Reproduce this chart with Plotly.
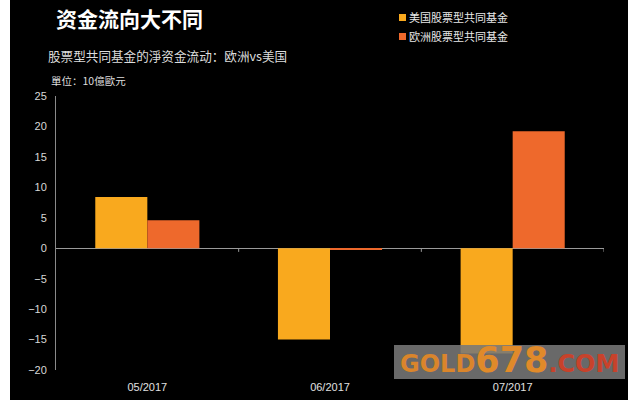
import plotly.graph_objects as go

# ---- data ----
categories = ["05/2017", "06/2017", "07/2017"]
us_values = [8.4, -15.0, -17.3]
eu_values = [4.6, -0.3, 19.2]
series_names = ["美国股票型共同基金", "欧洲股票型共同基金"]
y_ticks = [-20, -15, -10, -5, 0, 5, 10, 15, 20, 25]

title_text = "资金流向大不同"
subtitle_text = "股票型共同基金的淨资金流动：欧洲vs美国"
unit_text = "單位：10億歐元"

US_COLOR = "#F9A91E"
EU_COLOR = "#EE692C"

W, H = 640, 400
ML, MR, MT, MB = 56, 36, 96, 30
PW, PH = W - ML - MR, H - MT - MB


def px(x):
    return (x - ML) / PW


def py(y):
    return (H - MB - y) / PH


FONT = "Liberation Sans, Arial, Noto Sans CJK SC, sans-serif"
CJK = "Noto Sans CJK SC, Liberation Sans, sans-serif"

fig = go.Figure()
fig.add_trace(go.Bar(x=categories, y=us_values, name=series_names[0],
                     marker=dict(color=US_COLOR, line=dict(width=0))))
fig.add_trace(go.Bar(x=categories, y=eu_values, name=series_names[1],
                     marker=dict(color=EU_COLOR, line=dict(width=0))))

shapes = []
# black canvas with white border strips
shapes.append(dict(type="rect", xref="paper", yref="paper",
                   x0=px(10), x1=px(628), y0=py(400), y1=py(0),
                   fillcolor="black", line=dict(width=0), layer="below"))
# category boundary ticks on zero line
for b in [0.5, 1.5, 2.5]:
    shapes.append(dict(type="line", xref="x", yref="y", x0=b, x1=b, y0=0, y1=-0.6,
                       line=dict(color="#999999", width=1)))
# legend squares
shapes.append(dict(type="rect", xref="paper", yref="paper",
                   x0=px(399), x1=px(406), y0=py(21), y1=py(14),
                   fillcolor=US_COLOR, line=dict(width=0)))
shapes.append(dict(type="rect", xref="paper", yref="paper",
                   x0=px(399), x1=px(406), y0=py(40), y1=py(33),
                   fillcolor=EU_COLOR, line=dict(width=0)))
# watermark box
shapes.append(dict(type="rect", xref="paper", yref="paper",
                   x0=px(394), x1=px(625), y0=py(379), y1=py(345),
                   fillcolor="rgba(120,120,120,0.88)", line=dict(width=0)))

annotations = [
    dict(text=title_text, xref="paper", yref="paper", x=px(54), y=py(18),
         xanchor="left", yanchor="middle", showarrow=False,
         font=dict(family=CJK, size=21, color="white", weight="bold")),
    dict(text=subtitle_text, xref="paper", yref="paper", x=px(46), y=py(55),
         xanchor="left", yanchor="middle", showarrow=False,
         font=dict(family=CJK, size=12.6, color="#dddddd")),
    dict(text=unit_text, xref="paper", yref="paper", x=px(49), y=py(80),
         xanchor="left", yanchor="middle", showarrow=False,
         font=dict(family=CJK, size=10.5, color="#dddddd")),
    dict(text=series_names[0], xref="paper", yref="paper", x=px(407), y=py(17.5),
         xanchor="left", yanchor="middle", showarrow=False,
         font=dict(family=CJK, size=11, color="#e8e8e8")),
    dict(text=series_names[1], xref="paper", yref="paper", x=px(407), y=py(36.5),
         xanchor="left", yanchor="middle", showarrow=False,
         font=dict(family=CJK, size=11, color="#e8e8e8")),
    dict(text="<span style='color:#DA852B'>GOLD</span>"
              "<span style='font-size:35px;color:#E08A2A'>678</span>"
              "<span style='color:#C8422B'>.COM</span>",
         xref="paper", yref="paper", x=px(509), y=py(360),
         xanchor="center", yanchor="middle", showarrow=False,
         font=dict(family="DejaVu Sans, sans-serif", size=24, weight="bold")),
]

fig.update_layout(
    width=W, height=H,
    autosize=False,
    margin=dict(l=ML, r=MR, t=MT, b=MB, pad=0, autoexpand=False),
    paper_bgcolor="white",
    plot_bgcolor="black",
    barmode="group",
    bargap=0.43,
    bargroupgap=0,
    showlegend=False,
    font=dict(family=FONT, color="#dddddd"),
    shapes=shapes,
    annotations=annotations,
    xaxis=dict(type="category", range=[-0.5, 2.5], showgrid=False, showline=False,
               zeroline=False, ticks="", ticklabelstandoff=9, automargin=False,
               tickfont=dict(size=11, color="#e0e0e0")),
    yaxis=dict(range=[-20, 25], tickvals=y_ticks, showgrid=False,
               showline=True, linecolor="#8a8a8a", linewidth=1,
               zeroline=True, zerolinecolor="#9a9a9a", zerolinewidth=1,
               ticks="", ticklabelstandoff=6, automargin=False,
               tickfont=dict(size=11, color="#d8d8d8")),
)

fig.write_html("out.html",
               config={"displayModeBar": False},
               post_script="document.body.style.margin='0';document.body.style.overflow='hidden';")
